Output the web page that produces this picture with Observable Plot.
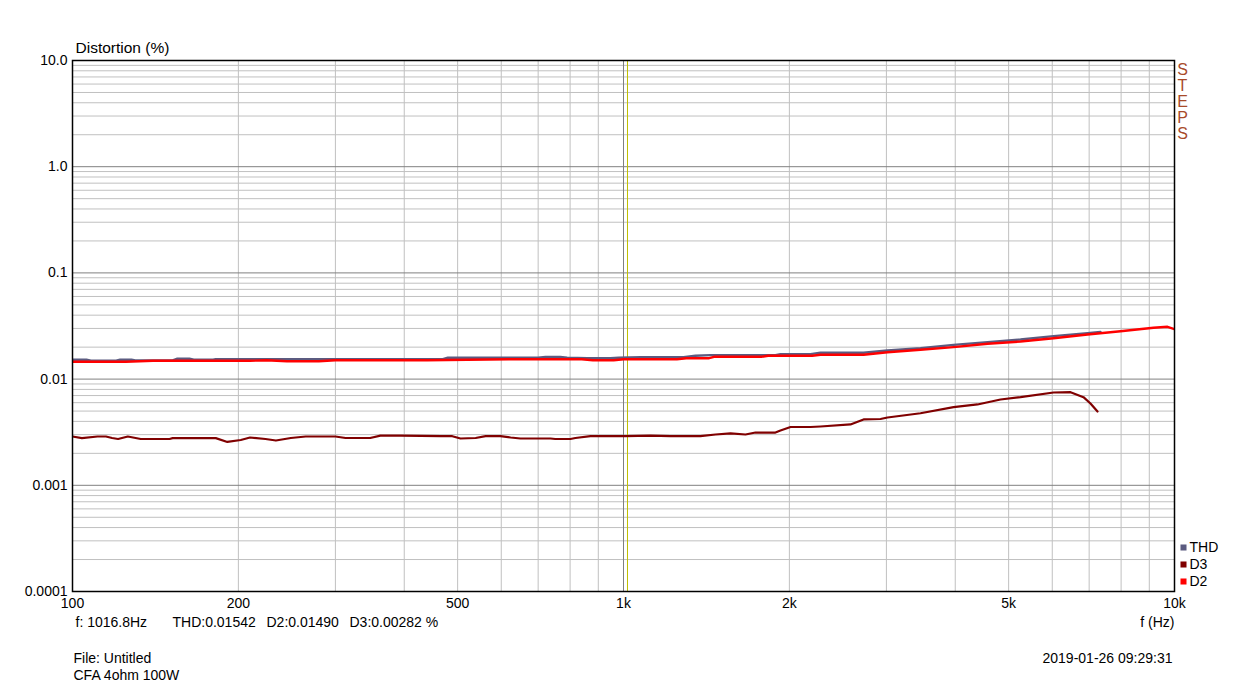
<!DOCTYPE html>
<html>
<head>
<meta charset="utf-8">
<script src="https://cdn.jsdelivr.net/npm/d3@7"></script>
<script src="https://cdn.jsdelivr.net/npm/@observablehq/plot@0.6"></script>
<style>
  html, body { margin: 0; padding: 0; background: #fff; }
  #chart svg { display: block; }
</style>
</head>
<body>
<div id="chart"></div>
<script>
// ---- Data ----
const thdFreq = [100, 106, 108, 120, 122, 128, 130, 152, 155, 163, 166, 180, 182, 470, 480, 700, 722, 768, 790, 860, 947, 980, 1074, 1285, 1351, 1438, 1887, 1927, 2185, 2278, 2727, 3014, 3459, 3972, 4578, 5254, 6033, 6953, 7339];
const thdVal  = [0.0152, 0.0152, 0.0149, 0.0149, 0.0152, 0.0152, 0.0150, 0.0150, 0.01555, 0.01555, 0.0152, 0.0152, 0.0154, 0.0154, 0.0159, 0.0159, 0.0162, 0.0162, 0.0159, 0.0157, 0.0157, 0.0159, 0.0161, 0.0161, 0.0166, 0.0168, 0.0168, 0.0172, 0.0172, 0.0177, 0.0177, 0.0186, 0.0195, 0.0210, 0.0223, 0.0236, 0.0254, 0.0271, 0.0278];

const d3Freq = [100, 104, 111, 115, 118, 121, 126, 133, 150, 152, 182, 191, 202, 210, 224, 234, 249, 265, 300, 313, 347, 362, 394, 466, 489, 506, 539, 562, 598, 624, 650, 737, 752, 801, 818, 871, 909, 1008, 1119, 1217, 1379, 1469, 1564, 1665, 1736, 1887, 1927, 2010, 2185, 2278, 2582, 2727, 2927, 3014, 3459, 3972, 4390, 4833, 5254, 6033, 6477, 6836, 7039, 7249];
const d3Val  = [0.00288, 0.00278, 0.00288, 0.00288, 0.00279, 0.00273, 0.00288, 0.00273, 0.00273, 0.00278, 0.00278, 0.00256, 0.00267, 0.00282, 0.00273, 0.00264, 0.00279, 0.00288, 0.00288, 0.00279, 0.00279, 0.00294, 0.00294, 0.00290, 0.00290, 0.00276, 0.00279, 0.00290, 0.00290, 0.00282, 0.00276, 0.00276, 0.00273, 0.00273, 0.00279, 0.00290, 0.00290, 0.00290, 0.00294, 0.00290, 0.00290, 0.00301, 0.00308, 0.00301, 0.00314, 0.00314, 0.00328, 0.00354, 0.00354, 0.00358, 0.00374, 0.00417, 0.00421, 0.00435, 0.00477, 0.00544, 0.00577, 0.00643, 0.00676, 0.00748, 0.00753, 0.00676, 0.00589, 0.00495];

const d2Freq = [100, 125, 140, 210, 225, 245, 280, 300, 440, 520, 620, 840, 880, 960, 1000, 1250, 1300, 1430, 1460, 1780, 1830, 2200, 2278, 2727, 3014, 3459, 3972, 4578, 5254, 6033, 6953, 7980, 9160, 9712, 10000];
const d2Val  = [0.01455, 0.01455, 0.01487, 0.01487, 0.01507, 0.01474, 0.01474, 0.01507, 0.01507, 0.01521, 0.01539, 0.01539, 0.01507, 0.01507, 0.01539, 0.01539, 0.01573, 0.01573, 0.01622, 0.01622, 0.01658, 0.01658, 0.01694, 0.01694, 0.01792, 0.01888, 0.01998, 0.0215, 0.02259, 0.02427, 0.0263, 0.02825, 0.03041, 0.03107, 0.02951];

const seriesNames  = ["THD", "D3", "D2"];
const seriesColors = ["#5b5b80", "#800000", "#ff0000"];

const xTicks = [100, 200, 500, 1000, 2000, 5000, 10000];
const xTickLabels = ["100", "200", "500", "1k", "2k", "5k", "10k"];
const yTicks = [0.0001, 0.001, 0.01, 0.1, 1, 10];
const yTickLabels = ["0.0001", "0.001", "0.01", "0.1", "1.0", "10.0"];

const cursorFreq = 1016.8;
const readout = ["f: 1016.8Hz", "THD:0.01542", "D2:0.01490", "D3:0.00282 %"];
const yTitle = "Distortion (%)";
const xTitle = "f (Hz)";
const fileLines = ["File: Untitled", "CFA 4ohm 100W"];
const timestamp = "2019-01-26 09:29:31";
const sideLabel = "STEPS";

// ---- Build tables ----
const toRows = (fs, vs, name) => fs.map((f, i) => ({f, v: vs[i], series: name}));
const thdRows = toRows(thdFreq, thdVal, "THD");
const d3Rows = toRows(d3Freq, d3Val, "D3");
const d2Rows = toRows(d2Freq, d2Val, "D2");

const minorX = [];
for (const dec of [100, 1000]) for (let k = 2; k <= 9; k++) minorX.push(dec * k);
const minorY = [];
for (const dec of [0.0001, 0.001, 0.01, 0.1, 1]) for (let k = 2; k <= 9; k++) minorY.push(dec * k);
const majorY = [0.001, 0.01, 0.1, 1];
const majorX = [1000];

const font = "'Liberation Sans', Arial, sans-serif";
const xLabel = d => xTickLabels[xTicks.indexOf(d)];
const yLabel = d => yTickLabels[yTicks.findIndex(t => Math.abs(t - d) / t < 1e-6)];

const legendMarks = [];
seriesNames.forEach((name, i) => {
  const dy = -44 + i * 17;
  legendMarks.push(Plot.dot([name], {frameAnchor: "bottom-right", dx: 9, dy, r: 3.4, symbol: "square", fill: seriesColors[i], stroke: "none"}));
  legendMarks.push(Plot.text([name], {frameAnchor: "bottom-right", dx: 15, dy, textAnchor: "start", lineAnchor: "middle", fontSize: 14, fill: "black"}));
});

const chart = Plot.plot({
  width: 1234,
  height: 687,
  marginLeft: 72,
  marginRight: 60,
  marginTop: 60,
  marginBottom: 96,
  style: {fontFamily: font, fontSize: "14px", background: "white", color: "black"},
  x: {type: "log", domain: [100, 10000], label: null},
  y: {type: "log", domain: [0.0001, 10], label: null},
  marks: [
    Plot.ruleX(minorX, {stroke: "#c0c0c0", strokeWidth: 1}),
    Plot.ruleY(minorY, {stroke: "#c0c0c0", strokeWidth: 1}),
    Plot.ruleY(majorY, {stroke: "#808080", strokeWidth: 1}),
    Plot.ruleX(majorX, {stroke: "#808080", strokeWidth: 1}),
    Plot.ruleX([cursorFreq], {stroke: "#c0c000", strokeWidth: 1}),
    Plot.axisX(xTicks, {tickSize: 0, tickPadding: 7, tickFormat: xLabel, fontSize: 14, label: null}),
    Plot.axisY(yTicks, {tickSize: 0, tickPadding: 5, tickFormat: yLabel, fontSize: 14, label: null}),
    Plot.line(thdRows, {x: "f", y: "v", stroke: seriesColors[0], strokeWidth: 2.4, clip: true}),
    Plot.line(d3Rows, {x: "f", y: "v", stroke: seriesColors[1], strokeWidth: 2.2, clip: true}),
    Plot.line(d2Rows, {x: "f", y: "v", stroke: seriesColors[2], strokeWidth: 2.4, clip: true}),
    Plot.frame({stroke: "black", strokeWidth: 1.5}),
    Plot.text([yTitle], {frameAnchor: "top-left", dx: 3, dy: -12, textAnchor: "start", lineAnchor: "middle", fontSize: 15.5}),
    Plot.text([sideLabel.split("").join("\n")], {frameAnchor: "top-right", dx: 8, dy: 3, textAnchor: "middle", lineAnchor: "top", fontSize: 16, lineHeight: 1.0, fill: "#a84a2a"}),
    ...legendMarks,
    Plot.text([readout[0]], {frameAnchor: "bottom-left", dx: 3, dy: 31, textAnchor: "start", lineAnchor: "middle", fontSize: 14}),
    Plot.text([readout[1]], {frameAnchor: "bottom-left", dx: 100, dy: 31, textAnchor: "start", lineAnchor: "middle", fontSize: 14}),
    Plot.text([readout[2]], {frameAnchor: "bottom-left", dx: 194, dy: 31, textAnchor: "start", lineAnchor: "middle", fontSize: 14}),
    Plot.text([readout[3]], {frameAnchor: "bottom-left", dx: 277, dy: 31, textAnchor: "start", lineAnchor: "middle", fontSize: 14}),
    Plot.text([xTitle], {frameAnchor: "bottom-right", dx: 0, dy: 31, textAnchor: "end", lineAnchor: "middle", fontSize: 14}),
    Plot.text([fileLines[0]], {frameAnchor: "bottom-left", dx: 1, dy: 67, textAnchor: "start", lineAnchor: "middle", fontSize: 14}),
    Plot.text([fileLines[1]], {frameAnchor: "bottom-left", dx: 1, dy: 84, textAnchor: "start", lineAnchor: "middle", fontSize: 14}),
    Plot.text([timestamp], {frameAnchor: "bottom-right", dx: -2, dy: 67, textAnchor: "end", lineAnchor: "middle", fontSize: 14})
  ]
});
document.getElementById("chart").appendChild(chart);
</script>
</body>
</html>
